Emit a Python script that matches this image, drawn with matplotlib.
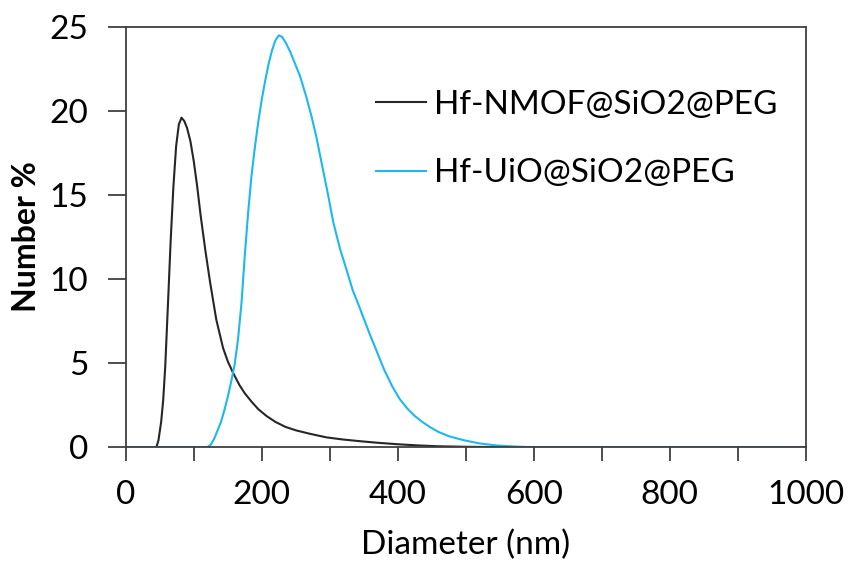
import matplotlib
matplotlib.use('Agg')
from matplotlib import pyplot as plt
from matplotlib.ticker import MultipleLocator

plt.rcParams['font.family'] = ['Lato', 'DejaVu Sans']

# Hf-NMOF@SiO2@PEG (black)
d_nmof = [0, 45, 48, 52, 55, 58, 62, 66, 70, 74, 78, 82, 86, 90, 95, 100, 105,
          110, 117, 124, 133, 143, 150, 158, 167, 175, 185, 195, 207, 220, 235,
          250, 270, 295, 320, 345, 370, 400, 430, 460, 500, 550, 1000]
n_nmof = [0, 0, 0.4, 1.5, 2.8, 4.8, 8.5, 12.3, 15.5, 17.9, 19.2, 19.6, 19.4,
          19.0, 18.2, 17.0, 15.5, 13.8, 11.7, 9.8, 7.6, 5.9, 5.1, 4.4, 3.7, 3.2,
          2.7, 2.25, 1.85, 1.5, 1.2, 1.0, 0.8, 0.58, 0.45, 0.35, 0.26, 0.17,
          0.1, 0.05, 0.02, 0, 0]

# Hf-UiO@SiO2@PEG (blue)
d_uio = [0, 120, 125, 130, 135, 140, 145, 150, 155, 160, 165, 170, 175, 180,
         185, 190, 195, 200, 205, 210, 215, 220, 225, 230, 236, 242, 249, 256,
         265, 273, 280, 290, 298, 305, 315, 325, 334, 342, 349, 358, 369, 380,
         392, 403, 415, 425, 436, 447, 460, 475, 496, 520, 545, 570, 594, 1000]
n_uio = [0, 0, 0.15, 0.5, 1.0, 1.5, 2.2, 3.0, 3.9, 4.9, 6.4, 8.5, 11.4, 14.0,
         16.2, 17.9, 19.4, 20.7, 21.8, 22.8, 23.6, 24.2, 24.5, 24.4, 24.0, 23.5,
         22.8, 22.1, 20.9, 19.7, 18.5, 16.5, 14.9, 13.4, 11.8, 10.5, 9.3, 8.5,
         7.75, 6.8, 5.7, 4.6, 3.6, 2.85, 2.25, 1.85, 1.5, 1.2, 0.9, 0.65, 0.42,
         0.22, 0.1, 0.04, 0, 0]

labels = ['Hf-NMOF@SiO2@PEG', 'Hf-UiO@SiO2@PEG']

fig = plt.figure(figsize=(8.5, 5.61), dpi=100)
ax = fig.add_axes([0.148, 0.203, 0.80, 0.749])

ax.plot(d_nmof, n_nmof, color='#262626', lw=1.5, label=labels[0])
ax.plot(d_uio, n_uio, color='#1CB8EE', lw=1.5, label=labels[1])

ax.set_xlim(0, 1000)
ax.set_ylim(0, 25)
ax.xaxis.set_major_locator(MultipleLocator(200))
ax.xaxis.set_minor_locator(MultipleLocator(100))
ax.yaxis.set_major_locator(MultipleLocator(5))

for s in ax.spines.values():
    s.set_color('#404040')
    s.set_linewidth(1.3)

ax.tick_params(axis='x', which='both', direction='out', length=10, width=1.3,
               color='#404040', labelsize=24, pad=14)
ax.tick_params(axis='y', direction='out', length=13, width=1.3,
               color='#404040', labelsize=24, pad=14)

ax.set_xlabel('Diameter (nm)', fontsize=24, labelpad=14)
ax.set_ylabel('Number %', fontsize=23, fontweight='bold', labelpad=6)

ax.legend(loc='upper left', bbox_to_anchor=(0.348, 0.882), frameon=False,
          fontsize=24, handlelength=1.5, handletextpad=0.25, labelspacing=1.15,
          borderaxespad=0)

fig.savefig('out.png', dpi=100)
